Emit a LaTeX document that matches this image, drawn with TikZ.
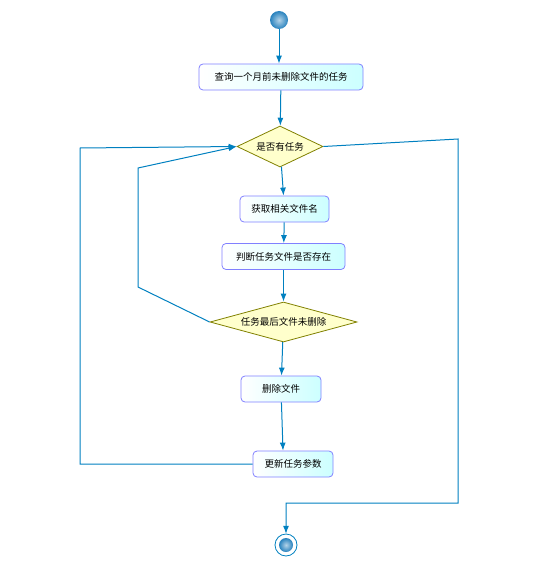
\documentclass[tikz,border=0pt]{standalone}
\usepackage{fontspec}
\newfontfamily\cjk{Noto Sans CJK SC}
\usepackage{tikz}
\usetikzlibrary{arrows.meta, positioning, shapes.geometric}
\definecolor{flowblue}{RGB}{0,128,192}
\definecolor{boxline}{RGB}{128,128,255}
\definecolor{boxfill}{RGB}{204,255,255}
\definecolor{decline}{RGB}{128,128,0}
\definecolor{decfill}{RGB}{255,255,204}
\definecolor{ballblue}{RGB}{40,130,190}

\begin{document}
\begin{tikzpicture}[x=1pt, y=-1pt,
  font=\cjk\fontsize{9.5}{11}\selectfont,
  act/.style={draw=boxline, line width=0.8pt, rounded corners=4pt,
    left color=white, right color=boxfill, minimum height=26pt, inner sep=0pt},
  dec/.style={diamond, draw=decline, line width=0.8pt, fill=decfill,
    inner sep=0pt},
  ball/.style={inner color=ballblue!35, outer color=ballblue},
  flow/.style={draw=flowblue, line width=1pt, -{Latex[length=8pt, width=6pt]}}]
\useasboundingbox (0,0) rectangle (557,567);

% start and end
\shade[ball] (279,20) circle (9pt);
\node[circle, minimum size=18pt, inner sep=0pt] (start) at (279,20) {};
\draw[flowblue, line width=0.8pt] (286,545) circle (11pt);
\shade[ball] (286,545) circle (7pt);
\node[circle, minimum size=22pt, inner sep=0pt] (stop) at (286,545) {};

% activities and decisions
\node[act, minimum width=164pt] (query) at (281,77) {查询一个月前未删除文件的任务};
\node[dec, aspect=2.1, minimum width=86pt, minimum height=41pt] (hastask) at (280,146.5) {是否有任务};
\node[act, minimum width=89pt] (getname) at (284.5,209) {获取相关文件名};
\node[act, minimum width=123pt] (exists) at (283.5,256.5) {判断任务文件是否存在};
\node[dec, aspect=3.7, minimum width=147pt, minimum height=40pt] (lastfile) at (283.5,322) {任务最后文件未删除};
\node[act, minimum width=80pt] (delete) at (281,389) {删除文件};
\node[act, minimum width=80pt] (update) at (293,464) {更新任务参数};

% connectors
\draw[flow] (start) -- (query.north -| start);
\draw[flow] (query) -- (hastask);
\draw[flow] (hastask) -- (getname);
\draw[flow] (getname) -- (exists);
\draw[flow] (exists) -- (lastfile);
\draw[flow] (lastfile) -- (delete);
\draw[flow] (delete) -- (update.north -| 283,0);
\draw[flow] (update.west) -- (80,464) -- (80,148) -- (hastask.west);
\draw[flow] (lastfile.west) -- (138,287) -- (138,168) -- (hastask.west);
\draw[flow] (hastask.east) -- (458,139) -- (458,503) -| (stop.north);
\end{tikzpicture}
\end{document}
